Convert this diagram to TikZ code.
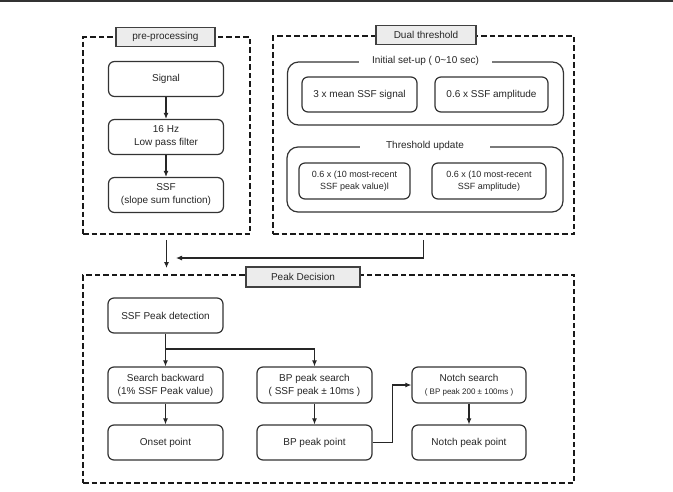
\documentclass[tikz,border=0pt]{standalone}
\usepackage{fontspec}
\setmainfont{Liberation Sans}
\usetikzlibrary{arrows.meta}

\begin{document}
\begin{tikzpicture}[x=1pt, y=-1pt,
    % Define styles
    group/.style={rectangle, draw=black!90, line width=1.7pt, dash pattern=on 5.5pt off 3pt, inner sep=0pt},
    grouptitle/.style={rectangle, draw=black!75, fill=gray!15, line width=1.2pt, minimum height=19pt, inner sep=0pt, text=black!85, font=\fontsize{10}{12}\selectfont},
    stepbox/.style={rectangle, rounded corners=6pt, draw=black!80, line width=1.2pt, fill=white, minimum width=115pt, minimum height=35pt, inner sep=1pt, align=center, text=black!85, font=\fontsize{10}{13}\selectfont},
    setbox/.style={rectangle, rounded corners=11pt, draw=black!80, line width=1.2pt, minimum width=276pt},
    settitle/.style={fill=white, inner ysep=1pt, text=black!85, font=\fontsize{10}{12}\selectfont},
    smalltext/.style={font=\fontsize{9}{11.5}\selectfont},
    flow/.style={-{Latex[length=6pt, width=5pt]}, line width=1.1pt, draw=black!85}
]

% Frame
\useasboundingbox (0,0) rectangle (673,491);
\draw[line width=2pt, black!80] (0,1) -- (673,1);

% Pre-processing
\node[group, minimum width=167pt, minimum height=197pt] (pregroup) at (166.5,135.5) {};
\node[grouptitle, minimum width=99pt] (pretitle) at (165.5,37) {pre-processing};
\node[stepbox] (signal) at (166,79) {Signal};
\node[stepbox] (lowpass) at (166,137) {16 Hz\\Low pass filter};
\node[stepbox] (ssf) at (166,195) {SSF\\(slope sum function)};

% Dual threshold
\node[group, minimum width=301pt, minimum height=198pt] (dualgroup) at (423.5,135) {};
\node[grouptitle, minimum width=100pt] (dualtitle) at (426,35) {Dual threshold};

\node[setbox, minimum height=63pt] (initset) at (425.5,93.5) {};
\node[settitle, inner xsep=13pt] (inittitle) at (initset.north) {Initial set-up ( 0\textasciitilde10 sec)};
\node[stepbox] (meanssf) at (359.5,94.5) {3 x mean SSF signal};
\node[stepbox, minimum width=113pt] (ampinit) at (491.5,94.5) {0.6 x SSF amplitude};

\node[setbox, minimum height=65pt] (update) at (425,179.5) {};
\node[settitle, inner xsep=26pt] (updatetitle) at (update.north) {Threshold update};
\node[stepbox, smalltext, minimum width=111pt, minimum height=36pt] (peakval) at (354.5,181) {0.6 x (10 most-recent\\SSF peak value)l};
\node[stepbox, smalltext, minimum width=114pt, minimum height=36pt] (ampval) at (489,181) {0.6 x (10 most-recent\\SSF amplitude)};

% Peak decision
\node[group, minimum width=491pt, minimum height=208pt] (peakgroup) at (328.5,379) {};
\node[grouptitle, minimum width=114pt, minimum height=20pt] (peaktitle) at (303,277) {Peak Decision};

\node[stepbox] (ssfpeak) at (165.5,315.5) {SSF Peak detection};
\node[stepbox, minimum height=36pt] (backward) at (165.5,385) {Search backward\\(1\% SSF Peak value)};
\node[stepbox, minimum height=36pt] (bpsearch) at (314.5,385) {BP peak search\\( SSF peak ± 10ms )};
\node[stepbox, minimum width=114pt, minimum height=36pt] (notch) at (469,385) {Notch search\\{\fontsize{8}{10}\selectfont ( BP peak 200 ± 100ms )}};
\node[stepbox] (onset) at (165.5,442.5) {Onset point};
\node[stepbox] (bppoint) at (314.5,442.5) {BP peak point};
\node[stepbox, minimum width=114pt] (notchpoint) at (469,442.5) {Notch peak point};

% Connections
\coordinate (merge) at (166.5,268);
\coordinate (mergeside) at (176,258);
\coordinate (branch) at (165.5,349);

\draw[flow] (signal) -- (lowpass);
\draw[flow] (lowpass) -- (ssf);
\draw[flow] ([yshift=-5pt]pregroup.south) -- (merge);
\draw[flow] ([yshift=-5pt]dualgroup.south) |- (mergeside);
\draw[flow] (ssfpeak) -- (backward);
\draw[flow] (branch) -| (bpsearch);
\draw[flow] (backward) -- (onset);
\draw[flow] (bpsearch) -- (bppoint);
\draw[flow] (bppoint.east) -- ++(20,0) |- (notch.west);
\draw[flow] (notch) -- (notchpoint);

\end{tikzpicture}
\end{document}
